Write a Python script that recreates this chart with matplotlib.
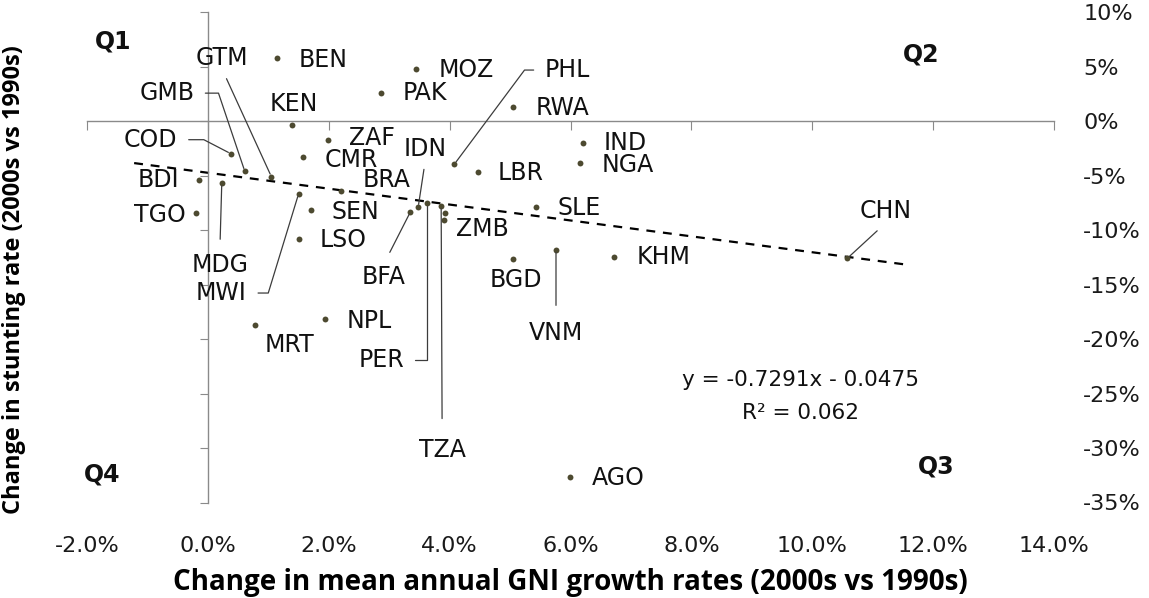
import numpy as np
import matplotlib
matplotlib.use("Agg")
from matplotlib import pyplot as plt
from matplotlib.ticker import PercentFormatter, FixedLocator

plt.rcParams['axes.unicode_minus'] = False
plt.rcParams['font.family'] = ['DejaVu Sans']

# change in mean annual GNI growth (2000s vs 1990s) and change in stunting rate
countries = ['BEN', 'PAK', 'MOZ', 'RWA', 'KEN', 'ZAF', 'CMR', 'COD', 'GMB', 'GTM',
             'BDI', 'MDG', 'TGO', 'BRA', 'MWI', 'SEN', 'LSO', 'IDN', 'PHL', 'LBR',
             'IND', 'NGA', 'SLE', 'ZMB', 'BFA', 'PER', 'TZA', '', 'KHM', 'BGD',
             'VNM', 'CHN', 'NPL', 'MRT', 'AGO']
gni_change = [0.0114, 0.0287, 0.0345, 0.0505, 0.0140, 0.0198, 0.0157, 0.0038, 0.0061, 0.0105,
              -0.0015, 0.0023, -0.0020, 0.0221, 0.0150, 0.0170, 0.0150, 0.0348, 0.0408, 0.0447,
              0.0620, 0.0615, 0.0543, 0.0391, 0.0335, 0.0363, 0.0386, 0.0393, 0.0672, 0.0505,
              0.0576, 0.1058, 0.0193, 0.0078, 0.0599]
stunting_change = [0.0578, 0.0257, 0.0477, 0.0128, -0.0037, -0.0174, -0.0330, -0.0300, -0.0460, -0.0510,
                   -0.0540, -0.0570, -0.0840, -0.0640, -0.0670, -0.0820, -0.1080, -0.0790, -0.0395, -0.0470,
                   -0.0200, -0.0385, -0.0790, -0.0910, -0.0835, -0.0750, -0.0780, -0.0840, -0.1250, -0.1270,
                   -0.1180, -0.1260, -0.1820, -0.1870, -0.3270]

slope, intercept, r2 = -0.7291, -0.0475, 0.062
trend_x = [-0.0122, 0.116]

x_ticks = [-0.02, 0.0, 0.02, 0.04, 0.06, 0.08, 0.10, 0.12, 0.14]
y_ticks = [-0.35, -0.30, -0.25, -0.20, -0.15, -0.10, -0.05, 0.0, 0.05, 0.10]

# label offsets from the dot (pixels) and leader style
label_pos = {
    'BEN': (46, -2, None), 'PAK': (44, 0, None), 'MOZ': (50, -1, None), 'RWA': (49, -1, None),
    'KEN': (1, 21, None), 'ZAF': (44, 2, None), 'CMR': (49, -3, None),
    'COD': (-80, 14, ('angle', (1, 0.5), 0, 152.6, 6)),
    'GMB': (-78, 78, ('angle', (1, 0.5), 0, 108.6, 6)),
    'GTM': (-49, 119, ('arc3', (0.5, 0), 0, 0, 5)),
    'BDI': (-40, 0, None), 'TGO': (-36, -2, None),
    'MDG': (-2, -82, ('arc3', (0.5, 1), 0, 0, 8)),
    'BRA': (45, 11, None),
    'MWI': (-77, -99, ('angle', (1, 0.5), 0, 73, 6)),
    'SEN': (45, -2, None), 'LSO': (45, -1, None),
    'IDN': (7, 58, ('arc3', (0.5, 0), 0, 0, 4)),
    'PHL': (113, 94, ('angle', (0, 0.5), 0, 53.3, 6)),
    'LBR': (43, -1, None), 'IND': (43, 0, None), 'NGA': (48, -2, None), 'SLE': (43, -1, None),
    'ZMB': (38, -9, None),
    'BFA': (-27, -65, ('arc3', (0.5, 1), 0, 0, 8)),
    'PER': (-46, -157, ('angle', (1, 0.5), 0, 90, 6)),
    'TZA': (1, -244, ('arc3', (0.5, 1), 0, 0, 12)),
    'KHM': (50, 0, None), 'BGD': (3, -21, None),
    'VNM': (0, -83, ('arc3', (0.5, 1), 0, 0, 9)),
    'CHN': (38, 47, ('arc3', (0.5, 0), 0, 0, 5)),
    'NPL': (45, -2, None), 'MRT': (34, -20, None), 'AGO': (48, -1, None),
}

axis_grey = '#8a8a8a'
dot_color = '#4d4a30'
leader_color = '#3c3c3c'

fig = plt.figure(figsize=(11.49, 5.98), dpi=100)
ax = fig.add_axes([87 / 1149, 1 - 502.5 / 598, (1054 - 87) / 1149, (502.5 - 12) / 598])
ax.set_xlim(-0.02, 0.14)
ax.set_ylim(-0.35, 0.10)

for side in ['top', 'right']:
    ax.spines[side].set_visible(False)
ax.spines['left'].set_position(('data', 0))
ax.spines['bottom'].set_position(('data', 0))
for side in ['left', 'bottom']:
    ax.spines[side].set_color(axis_grey)
    ax.spines[side].set_linewidth(1.0)
ax.xaxis.set_major_locator(FixedLocator(x_ticks))
ax.yaxis.set_major_locator(FixedLocator(y_ticks))
ax.tick_params(axis='x', direction='out', length=6.5, color=axis_grey, labelbottom=False)
ax.tick_params(axis='y', direction='out', length=6, color=axis_grey, labelleft=False)

# tick labels on the outer edges
sx = ax.secondary_xaxis('bottom')
sx.xaxis.set_major_locator(FixedLocator(x_ticks))
sx.xaxis.set_major_formatter(PercentFormatter(1.0, decimals=1))
sx.spines['bottom'].set_visible(False)
sx.tick_params(length=0, pad=24, labelsize=16, labelcolor='#1a1a1a')

sy = ax.secondary_yaxis('right')
sy.yaxis.set_major_locator(FixedLocator(y_ticks))
sy.yaxis.set_major_formatter(PercentFormatter(1.0, decimals=0))
sy.spines['right'].set_visible(False)
sy.tick_params(length=0, pad=21, labelsize=16, labelcolor='#1a1a1a')

sx.set_xlabel('Change in mean annual GNI growth rates (2000s vs 1990s)',
              fontsize=20, fontweight='bold', family='Open Sans', labelpad=9)
ax.set_ylabel('Change in stunting rate (2000s vs 1990s)',
              fontsize=17, fontweight='bold', family='Open Sans')
ax.yaxis.set_label_coords(-0.063, 0.455)

# trend line
tx = np.array(trend_x)
ax.plot(tx, slope * tx + intercept, color='black', linestyle=(0, (4, 3.5)), linewidth=1.6, zorder=2)

ax.scatter(gni_change, stunting_change, s=18, color=dot_color, zorder=3, linewidths=0)

for name, x, y in zip(countries, gni_change, stunting_change):
    if not name:
        continue
    dx, dy, leader = label_pos[name]
    kw = dict(xy=(x, y), xytext=(dx, dy), textcoords='offset pixels',
              ha='center', va='center', fontsize=17, color='#111111', zorder=4)
    if leader is not None:
        style, relpos, angA, angB, shrink = leader
        if style == 'angle':
            cs = 'angle,angleA=%g,angleB=%g,rad=0' % (angA, angB)
        else:
            cs = 'arc3,rad=0'
        kw['arrowprops'] = dict(arrowstyle='-', color=leader_color, lw=0.9,
                                relpos=relpos, shrinkA=shrink, shrinkB=2,
                                connectionstyle=cs)
    ax.annotate(name, **kw)

ax.text(0.098, -0.2375, 'y = %.4fx - %.4f' % (slope, -intercept),
        ha='center', va='center', fontsize=15.5, color='#111111')
ax.text(0.098, -0.268, 'R² = %.3f' % r2, ha='center', va='center', fontsize=15.5, color='#111111')

quad = dict(fontsize=17, fontweight='bold', ha='center', va='center', color='#111111')
ax.text(-0.0157, 0.073, 'Q1', **quad)
ax.text(0.118, 0.061, 'Q2', **quad)
ax.text(0.1205, -0.317, 'Q3', **quad)
ax.text(-0.0175, -0.324, 'Q4', **quad)

fig.savefig('out.png', dpi=100)
